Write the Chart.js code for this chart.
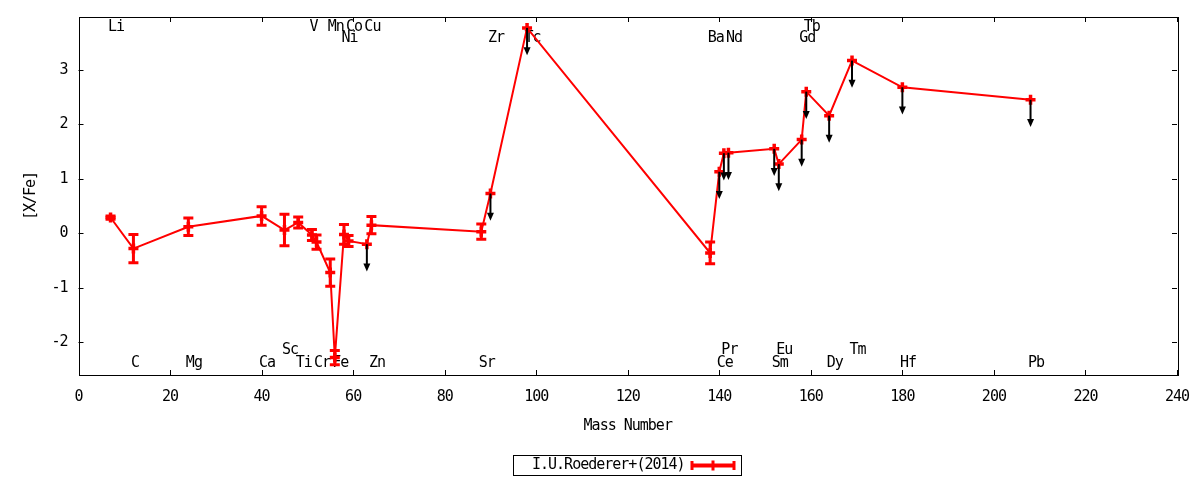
<!DOCTYPE html>
<html>
<head>
<meta charset="utf-8">
<script src="https://cdn.jsdelivr.net/npm/chart.js@4"></script>
<style>
  html, body { margin: 0; padding: 0; background: #fff; }
  #wrap { width: 1200px; height: 480px; }
</style>
</head>
<body>
<div id="wrap"><canvas id="chart"></canvas></div>
<script>
const seriesLabel = 'I.U.Roederer+(2014)'

const elements = ['Li', 'C', 'Mg', 'Ca', 'Sc', 'Ti', 'V', 'Cr', 'Mn', 'Fe', 'Ni', 'Co', 'Cu', 'Zn',
  'Sr', 'Zr', 'Tc', 'Ba', 'Ce', 'Pr', 'Nd', 'Sm', 'Eu', 'Gd', 'Tb', 'Dy', 'Tm', 'Hf', 'Pb']
const massNumber = [7, 12, 24, 40, 45, 48, 51, 52, 55, 56, 58, 59, 63, 64,
  88, 90, 98, 138, 140, 141, 142, 152, 153, 158, 159, 164, 169, 180, 208]
const xFe = [0.29, -0.28, 0.12, 0.32, 0.06, 0.20, -0.03, -0.16, -0.72, -2.28, -0.02, -0.14, -0.20, 0.15,
  0.03, 0.73, 3.77, -0.36, 1.13, 1.47, 1.48, 1.55, 1.27, 1.72, 2.60, 2.16, 3.17, 2.68, 2.45]
const xFeErr = [0.03, 0.26, 0.16, 0.17, 0.29, 0.10, 0.10, 0.13, 0.25, 0.13, 0.18, 0.10, 0, 0.16,
  0.14, 0, 0, 0.20, 0, 0, 0, 0, 0, 0, 0, 0, 0, 0, 0]
const upperLimit = [0, 0, 0, 0, 0, 0, 0, 0, 0, 0, 0, 0, 1, 0,
  0, 1, 1, 0, 1, 1, 1, 1, 1, 1, 1, 1, 1, 1, 1]

// element name rows (top, second, upper bottom, bottom)
const labelsTop = ['Li', 'V', 'Mn', 'Co', 'Cu', 'Tb']
const labelsSecond = ['Ni', 'Zr', 'Tc', 'Ba', 'Nd', 'Gd']
const labelsLowUpper = ['Sc', 'Pr', 'Eu', 'Tm']
const labelsLow = ['C', 'Mg', 'Ca', 'Ti', 'Cr', 'Fe', 'Zn', 'Sr', 'Ce', 'Sm', 'Dy', 'Hf', 'Pb']

const xTickValues = [0, 20, 40, 60, 80, 100, 120, 140, 160, 180, 200, 220, 240]
const yTickValues = [-2, -1, 0, 1, 2, 3]

const FONT = '"DejaVu Sans Mono", "Liberation Mono", monospace'
const FSIZE = 15
const RED = '#ff0000'

const points = massNumber.map((m, i) => ({ x: m, y: xFe[i] }))

// narrow the mono font a bit, like the gnuplot output
const tightText = {
  id: 'tightText',
  beforeLayout(chart) { chart.ctx.letterSpacing = '-1px' },
  beforeDraw(chart) { chart.ctx.letterSpacing = '-1px' }
}

const elementLabels = {
  id: 'elementLabels',
  beforeDatasetsDraw(chart) {
    const { ctx, scales: { x, y } } = chart
    const rows = [[labelsTop, 3.78], [labelsSecond, 3.58], [labelsLowUpper, -2.14], [labelsLow, -2.39]]
    ctx.save()
    ctx.font = `${FSIZE}px ${FONT}`
    ctx.fillStyle = '#000'
    ctx.textAlign = 'left'
    ctx.textBaseline = 'middle'
    rows.forEach(([names, v]) => {
      names.forEach(name => {
        const i = elements.indexOf(name)
        ctx.fillText(name, x.getPixelForValue(massNumber[i]) - 2.5, y.getPixelForValue(v))
      })
    })
    ctx.restore()
  }
}

const errorBars = {
  id: 'errorBars',
  afterDatasetsDraw(chart) {
    const { ctx, scales: { x, y } } = chart
    ctx.save()
    ctx.strokeStyle = RED
    ctx.lineWidth = 3
    massNumber.forEach((m, i) => {
      if (!xFeErr[i]) return
      const px = x.getPixelForValue(m)
      const top = y.getPixelForValue(xFe[i] + xFeErr[i])
      const bot = y.getPixelForValue(xFe[i] - xFeErr[i])
      ctx.beginPath()
      ctx.moveTo(px, top); ctx.lineTo(px, bot)
      ctx.moveTo(px - 5, top); ctx.lineTo(px + 5, top)
      ctx.moveTo(px - 5, bot); ctx.lineTo(px + 5, bot)
      ctx.stroke()
    })

    // upper limit arrows
    ctx.strokeStyle = '#000'
    ctx.fillStyle = '#000'
    ctx.lineWidth = 2
    massNumber.forEach((m, i) => {
      if (!upperLimit[i]) return
      const px = x.getPixelForValue(m)
      const y0 = y.getPixelForValue(xFe[i])
      const y1 = y.getPixelForValue(xFe[i] - 0.5)
      ctx.beginPath()
      ctx.moveTo(px, y0); ctx.lineTo(px, y1 - 5)
      ctx.stroke()
      ctx.beginPath()
      ctx.moveTo(px, y1)
      ctx.lineTo(px - 3.5, y1 - 8)
      ctx.lineTo(px + 3.5, y1 - 8)
      ctx.closePath()
      ctx.fill()
    })
    ctx.restore()
  }
}

const frame = {
  id: 'frame',
  afterDraw(chart) {
    const { ctx, chartArea: a, scales: { x, y } } = chart
    ctx.save()
    ctx.strokeStyle = '#000'
    ctx.lineWidth = 1
    ctx.strokeRect(Math.round(a.left) + 0.5, Math.round(a.top) + 0.5,
      Math.round(a.right - a.left), Math.round(a.bottom - a.top))
    ctx.beginPath()
    xTickValues.forEach(v => {
      const px = Math.round(x.getPixelForValue(v)) + 0.5
      ctx.moveTo(px, a.bottom); ctx.lineTo(px, a.bottom - 5)
      ctx.moveTo(px, a.top); ctx.lineTo(px, a.top + 5)
    })
    yTickValues.forEach(v => {
      const py = Math.round(y.getPixelForValue(v)) + 0.5
      ctx.moveTo(a.left, py); ctx.lineTo(a.left + 5, py)
      ctx.moveTo(a.right, py); ctx.lineTo(a.right - 5, py)
    })
    ctx.stroke()

    // legend box
    ctx.strokeRect(513.5, 455.5, 228, 20)
    ctx.font = `${FSIZE}px ${FONT}`
    ctx.fillStyle = '#000'
    ctx.textAlign = 'left'
    ctx.textBaseline = 'middle'
    ctx.fillText(seriesLabel, 532, 465.5)
    ctx.strokeStyle = RED
    ctx.lineWidth = 4
    ctx.beginPath()
    ctx.moveTo(691, 465.5); ctx.lineTo(735, 465.5)
    ctx.stroke()
    ctx.lineWidth = 3
    ctx.beginPath()
    ctx.moveTo(692, 461); ctx.lineTo(692, 470)
    ctx.moveTo(734, 461); ctx.lineTo(734, 470)
    ctx.moveTo(713, 460.5); ctx.lineTo(713, 470.5)
    ctx.stroke()
    ctx.restore()
  }
}

const axisFont = { family: FONT, size: FSIZE }

new Chart(document.getElementById('chart').getContext('2d'), {
  type: 'scatter',
  data: {
    datasets: [{
      label: seriesLabel,
      data: points,
      showLine: true,
      borderColor: RED,
      borderWidth: 2,
      pointStyle: 'cross',
      pointRadius: 5,
      pointBorderWidth: 3.5,
      pointBorderColor: RED,
      pointBackgroundColor: RED,
      tension: 0
    }]
  },
  options: {
    responsive: true,
    maintainAspectRatio: false,
    animation: false,
    layout: { padding: { top: 17, right: 23, bottom: 45, left: 0 } },
    plugins: {
      legend: { display: false },
      tooltip: { enabled: false }
    },
    scales: {
      x: {
        type: 'linear',
        min: 0,
        max: 240,
        afterFit: s => { s.height = 60; s.paddingLeft = 0; s.paddingRight = 0 },
        afterBuildTicks: s => { s.ticks = xTickValues.map(v => ({ value: v })) },
        grid: { display: false, drawTicks: false },
        border: { display: false },
        ticks: { padding: 13, color: '#000', font: axisFont, maxRotation: 0 },
        title: { display: true, text: 'Mass Number', color: '#000', font: axisFont,
          padding: { top: 4, bottom: 0 } }
      },
      y: {
        min: -2.6,
        max: 3.97,
        afterFit: s => { s.width = 78.5; s.paddingTop = 0; s.paddingBottom = 0 },
        afterBuildTicks: s => { s.ticks = yTickValues.map(v => ({ value: v })) },
        grid: { display: false, drawTicks: false },
        border: { display: false },
        ticks: { padding: 11, color: '#000', font: axisFont },
        title: { display: true, text: '[X/Fe]', color: '#000', font: axisFont,
          padding: { top: 22, bottom: 0 } }
      }
    }
  },
  plugins: [tightText, elementLabels, errorBars, frame]
})
</script>
</body>
</html>
